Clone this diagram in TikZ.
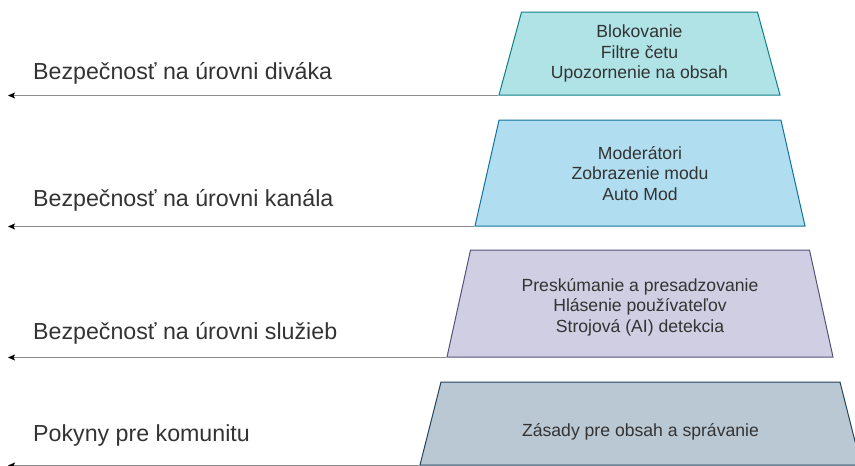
\documentclass[tikz,border=0pt]{standalone}
\usepackage{fontspec}
\setmainfont{Liberation Sans}
\usetikzlibrary{shapes.geometric,arrows.meta}
\definecolor{viewfill}{HTML}{B0E3E6}
\definecolor{viewdraw}{HTML}{0E8088}
\definecolor{chanfill}{HTML}{B1DDF0}
\definecolor{chandraw}{HTML}{10739E}
\definecolor{servfill}{HTML}{D0CEE2}
\definecolor{servdraw}{HTML}{56517E}
\definecolor{rulefill}{HTML}{BAC8D3}
\definecolor{ruledraw}{HTML}{23445D}
\definecolor{txtgray}{HTML}{333333}
\definecolor{linegray}{HTML}{8C8C8C}
\tikzset{
  layer/.style={trapezium, trapezium stretches body=true, line width=1pt,
    inner sep=0pt, text height=#1, text depth=0pt},
  layertext/.style={align=center, inner sep=0pt, text=txtgray,
    font=\fontsize{17.6}{20.5}\selectfont},
  levelline/.style={draw=linegray, line width=1pt,
    -{Stealth[length=7pt,width=6pt,inset=1.5pt,color=black]}},
  levellabel/.style={anchor=west, inner sep=0pt, text=txtgray,
    font=\fontsize{23.2}{27}\selectfont}
}
\begin{document}
\begin{tikzpicture}[x=1pt,y=-1pt]
\useasboundingbox (0,0) rectangle (855,466);
\coordinate (leftEdge) at (8,0);
%%% the four safety layers, top to bottom
\node[layer=83pt, fill=viewfill, draw=viewdraw, trapezium angle=74.8,
  minimum width=281pt,
  label={[layertext]center:Blokovanie\\Filtre četu\\Upozornenie na obsah}]
  (viewer) at (639.5,53.5) {};
\node[layer=106pt, fill=chanfill, draw=chandraw, trapezium angle=77.2,
  minimum width=330pt,
  label={[layertext,yshift=-0.5pt]center:Moderátori\\Zobrazenie modu\\Auto Mod}]
  (channel) at (640,173) {};
\node[layer=107pt, fill=servfill, draw=servdraw, trapezium angle=77.6,
  minimum width=386pt,
  label={[layertext,yshift=-3.5pt]center:Preskúmanie a presadzovanie\\Hlásenie používateľov\\Strojová (AI) detekcia}]
  (service) at (640,303.5) {};
\node[layer=83pt, fill=rulefill, draw=ruledraw, trapezium angle=75.8,
  minimum width=441pt,
  label={[layertext,yshift=-8.5pt]center:Zásady pre obsah a správanie}]
  (rules) at (640.5,423.5) {};
%%% arrows to the left edge
\draw[levelline] (viewer.bottom left corner) -- (viewer.bottom left corner -| leftEdge);
\draw[levelline] (channel.bottom left corner) -- (channel.bottom left corner -| leftEdge);
\draw[levelline] (service.bottom left corner) -- (service.bottom left corner -| leftEdge);
\draw[levelline] (rules.bottom left corner) -- (rules.bottom left corner -| leftEdge);
%%% level names
\node[levellabel] (viewerLbl) at (33,73) {Bezpečnosť na úrovni diváka};
\node[levellabel] (channelLbl) at (33,200) {Bezpečnosť na úrovni kanála};
\node[levellabel] (serviceLbl) at (33,333) {Bezpečnosť na úrovni služieb};
\node[levellabel] (rulesLbl) at (33,435) {Pokyny pre komunitu};
\end{tikzpicture}
\end{document}
